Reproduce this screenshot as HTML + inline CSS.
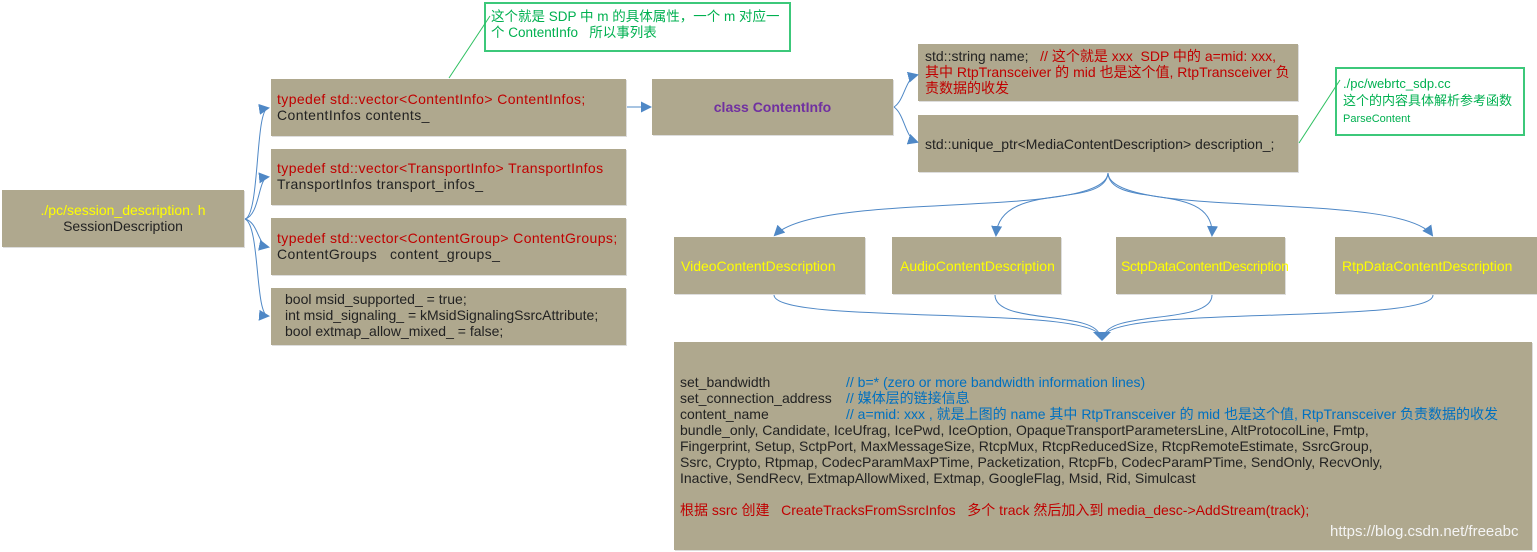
<!DOCTYPE html>
<html><head><meta charset="utf-8"><style>
body{margin:0;width:1537px;height:552px;background:#fff;position:relative;overflow:hidden;font-family:"Liberation Sans","Noto Sans CJK SC",sans-serif;font-size:14px;color:#222}
.b{position:absolute;background:#afa88e;box-shadow:1px 1px 0 #ddd;box-sizing:border-box}
.r{color:#c00000}.y{color:#ffff00}.bl{color:#0070c0}.g{color:#00b050}
.t{position:absolute;line-height:16px;white-space:nowrap}
.n{position:absolute;border:2px solid #3cc87a;background:#fff;box-sizing:border-box}
svg{position:absolute;left:0;top:0}
</style></head><body>
<div class="b" style="left:2px;top:190px;width:242px;height:57px"></div>
<div class="t" style="left:2px;width:242px;top:202px;text-align:center"><span class="y">./pc/session_description. h</span><br>SessionDescription</div>
<div class="b" style="left:271px;top:79px;width:355px;height:57px"></div>
<div class="t" style="left:277px;top:91px;letter-spacing:0.4px"><span class="r">typedef std::vector&lt;ContentInfo&gt; ContentInfos;</span><br>ContentInfos contents_</div>
<div class="b" style="left:271px;top:149px;width:355px;height:56px"></div>
<div class="t" style="left:277px;top:160px;letter-spacing:0.4px"><span class="r">typedef std::vector&lt;TransportInfo&gt; TransportInfos</span><br>TransportInfos transport_infos_</div>
<div class="b" style="left:271px;top:218px;width:355px;height:57px"></div>
<div class="t" style="left:277px;top:230px;letter-spacing:0.4px"><span class="r">typedef std::vector&lt;ContentGroup&gt; ContentGroups;</span><br>ContentGroups &nbsp;&nbsp;content_groups_</div>
<div class="b" style="left:271px;top:288px;width:355px;height:57px"></div>
<div class="t" style="left:285px;top:291px">bool msid_supported_ = true;<br>int msid_signaling_ = kMsidSignalingSsrcAttribute;<br>bool extmap_allow_mixed_ = false;</div>
<div class="n" style="left:484px;top:2px;width:307px;height:50px"></div>
<div class="t g" style="left:491px;top:9px;font-size:13.5px">这个就是 SDP 中 m 的具体属性，一个 m 对应一<br>个 ContentInfo &nbsp;&nbsp;所以事列表</div>
<div class="b" style="left:652px;top:79px;width:241px;height:56px"></div>
<div class="t" style="left:652px;width:241px;top:99px;text-align:center;color:#7030a0;font-weight:bold">class ContentInfo</div>
<div class="b" style="left:918px;top:44px;width:380px;height:57px"></div>
<div class="t" style="left:925px;top:48px">std::string name; &nbsp;&nbsp;<span class="r">// 这个就是 xxx &nbsp;SDP 中的 a=mid: xxx,<br>其中 RtpTransceiver 的 mid 也是这个值, RtpTransceiver 负<br>责数据的收发</span></div>
<div class="b" style="left:918px;top:115px;width:380px;height:57px"></div>
<div class="t" style="left:925px;top:136px">std::unique_ptr&lt;MediaContentDescription&gt; description_;</div>
<div class="n" style="left:1335px;top:67px;width:190px;height:69px"></div>
<div class="t g" style="left:1343px;top:75px;line-height:17px;font-size:13px">./pc/webrtc_sdp.cc<br>这个的内容具体解析参考函数<br><span style="font-size:11px">ParseContent</span></div>
<div class="b" style="left:674px;top:237px;width:191px;height:57px"></div>
<div class="t y" style="left:681px;top:258px">VideoContentDescription</div>
<div class="b" style="left:892px;top:237px;width:169px;height:57px"></div>
<div class="t y" style="left:900px;top:258px">AudioContentDescription</div>
<div class="b" style="left:1116px;top:237px;width:169px;height:57px"></div>
<div class="t y" style="left:1121px;top:258px;letter-spacing:-0.35px">SctpDataContentDescription</div>
<div class="b" style="left:1335px;top:237px;width:202px;height:57px"></div>
<div class="t y" style="left:1342px;top:258px">RtpDataContentDescription</div>
<div class="b" style="left:674px;top:342px;width:858px;height:208px"></div>
<div class="t" style="left:680px;top:374px">set_bandwidth<span class="bl" style="position:absolute;left:166px">// b=* (zero or more bandwidth information lines)</span><br>set_connection_address<span class="bl" style="position:absolute;left:166px">// 媒体层的链接信息</span><br>content_name<span class="bl" style="position:absolute;left:166px">// a=mid: xxx , 就是上图的 name 其中 RtpTransceiver 的 mid 也是这个值, RtpTransceiver 负责数据的收发</span><br>bundle_only, Candidate, IceUfrag, IcePwd, IceOption, OpaqueTransportParametersLine, AltProtocolLine, Fmtp,<br>Fingerprint, Setup, SctpPort, MaxMessageSize, RtcpMux, RtcpReducedSize, RtcpRemoteEstimate, SsrcGroup,<br>Ssrc, Crypto, Rtpmap, CodecParamMaxPTime, Packetization, RtcpFb, CodecParamPTime, SendOnly, RecvOnly,<br>Inactive, SendRecv, ExtmapAllowMixed, Extmap, GoogleFlag, Msid, Rid, Simulcast<br><br><span class="r">根据 ssrc 创建 &nbsp;&nbsp;CreateTracksFromSsrcInfos &nbsp;&nbsp;多个 track 然后加入到 media_desc-&gt;AddStream(track);</span></div>
<div class="t" style="left:1330px;top:524px;color:#f4f4f4;font-size:15px">https://blog.csdn.net/freeabc</div>
<svg width="1537" height="552">
<defs><marker id="a" markerUnits="userSpaceOnUse" markerWidth="11" markerHeight="11" refX="9" refY="5.5" orient="auto"><path d="M0,0L11,5.5L0,11z" fill="#4f88c6"/></marker></defs>
<g fill="none" stroke="#4f88c6" stroke-width="1" marker-end="url(#a)">
<path d="M245,219C260,215 255,110 268,108"/>
<path d="M245,219C260,215 258,178 268,177"/>
<path d="M245,219C258,222 258,245 268,247"/>
<path d="M245,219C260,225 255,315 268,316"/>
<path d="M627,107L650,107"/>
<path d="M894,107C905,100 905,78 917,75"/>
<path d="M894,107C905,115 905,138 917,142"/>
<path d="M1108,173C1105,220 820,190 775,235"/>
<path d="M1108,173C1105,210 1000,180 996,235"/>
<path d="M1108,173C1110,210 1215,180 1212,235"/>
<path d="M1108,173C1110,220 1400,190 1432,235"/>
</g>
<g fill="none" stroke="#4f88c6" stroke-width="1">
<path d="M774,295C775,325 1090,305 1100,336"/>
<path d="M995,295C995,325 1095,310 1100,336"/>
<path d="M1212,295C1212,325 1110,310 1104,336"/>
<path d="M1433,295C1433,325 1115,305 1104,336"/>
</g>
<path d="M1093,332L1111,332L1102,341z" fill="#4f88c6"/>
<g stroke="#2dc060" stroke-width="1"><line x1="449" y1="78" x2="490" y2="16"/><line x1="1299" y1="143" x2="1340" y2="80"/></g>
</svg>
</body></html>
